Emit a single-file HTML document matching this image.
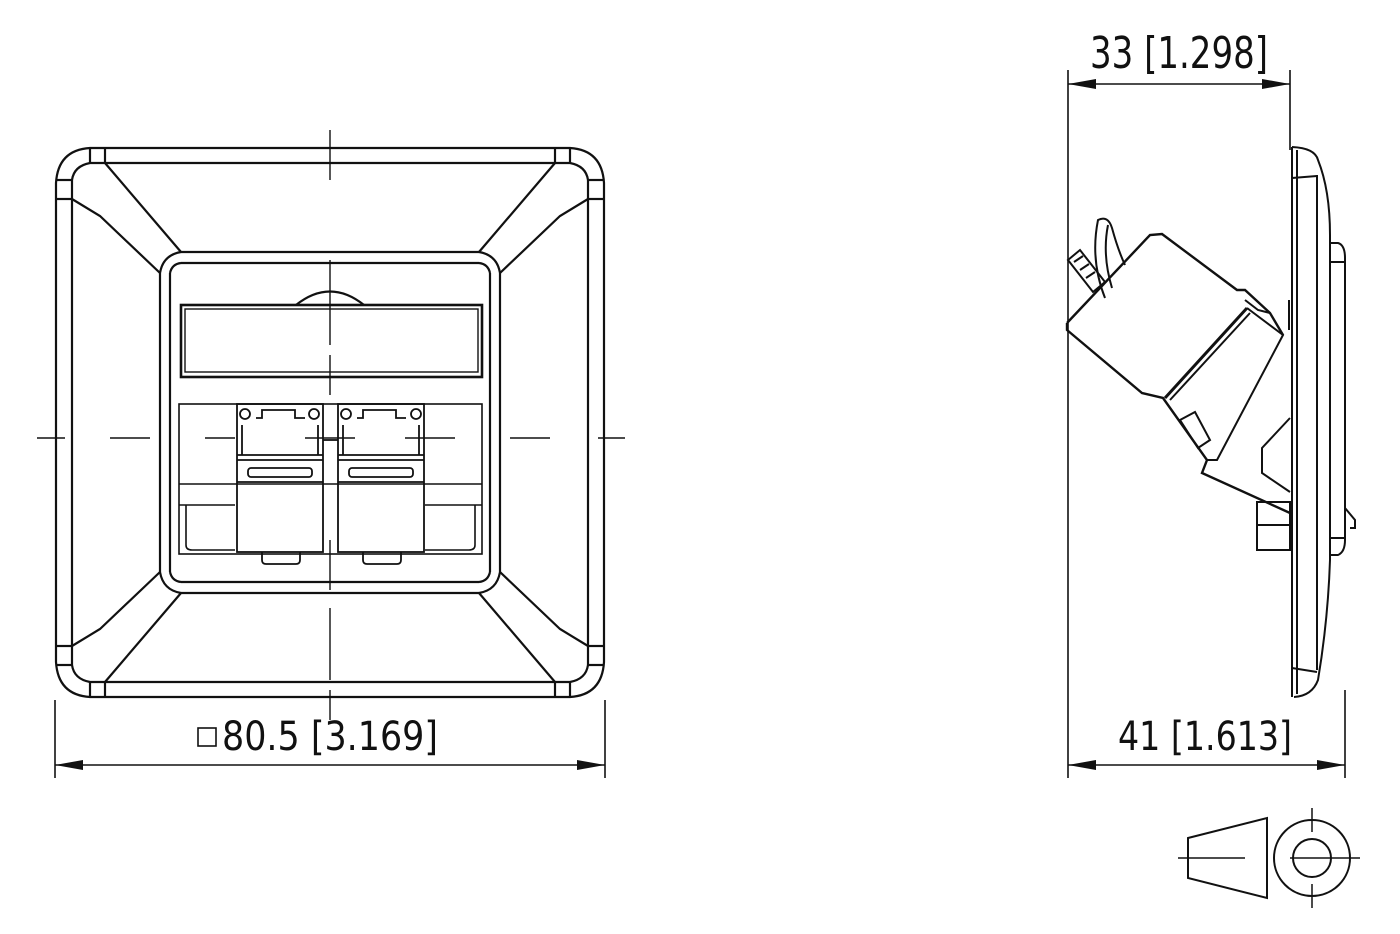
<!DOCTYPE html>
<html><head><meta charset="utf-8"><style>
html,body{margin:0;padding:0;background:#fff;}
svg{display:block}
text{font-family:"DejaVu Sans","Liberation Sans",sans-serif;font-weight:normal;fill:#111}
</style></head><body>
<svg width="1400" height="934" viewBox="0 0 1400 934" xmlns="http://www.w3.org/2000/svg">
<defs>
<g id="corner" fill="none" stroke="#111" stroke-width="2.2">
  <path d="M56 199 L56 183 Q58 150 90 148 L105 148"/>
  <path d="M72 180 Q74 166 90 163 L105 163"/>
  <line x1="90" y1="148" x2="90" y2="163"/>
  <line x1="105" y1="148" x2="105" y2="163"/>
  <line x1="56" y1="180" x2="72" y2="180"/>
  <line x1="56" y1="199" x2="72" y2="199"/>
  <line x1="72" y1="180" x2="72" y2="199"/>
  <path d="M105 163 L181 252"/>
  <path d="M72 199 L100 216 L160 273"/>
  <path d="M160 273 Q163 255 181 252"/>
  <path d="M170 273 Q172 264 181 263"/>
</g>
</defs>
<g>
<use href="#corner"/>
<use href="#corner" transform="translate(660,0) scale(-1,1)"/>
<use href="#corner" transform="translate(0,845) scale(1,-1)"/>
<use href="#corner" transform="translate(660,845) scale(-1,-1)"/>
</g>
<g fill="none" stroke="#111" stroke-width="2.2">
  <line x1="105" y1="148" x2="555" y2="148"/><line x1="105" y1="163" x2="555" y2="163"/>
  <line x1="105" y1="697" x2="555" y2="697"/><line x1="105" y1="682" x2="555" y2="682"/>
  <line x1="56" y1="199" x2="56" y2="646"/><line x1="72" y1="199" x2="72" y2="646"/>
  <line x1="604" y1="199" x2="604" y2="646"/><line x1="588" y1="199" x2="588" y2="646"/>
  <line x1="181" y1="252" x2="479" y2="252"/><line x1="181" y1="263" x2="479" y2="263"/>
  <line x1="181" y1="593" x2="479" y2="593"/><line x1="181" y1="582" x2="479" y2="582"/>
  <line x1="160" y1="273" x2="160" y2="572"/><line x1="170" y1="273" x2="170" y2="572"/>
  <line x1="500" y1="273" x2="500" y2="572"/><line x1="490" y1="273" x2="490" y2="572"/>
  <path d="M296 305 Q330 278 364 305"/>
  <rect x="181" y="305" width="301" height="72" stroke-width="2.6"/>
  <rect x="185" y="309" width="293" height="63" stroke-width="1.4"/>
  <rect x="179" y="404" width="303" height="150" stroke-width="1.6"/>
  <line x1="179" y1="484" x2="482" y2="484" stroke-width="1.6"/>
  <path d="M186 505 L186 545 Q186 550 192 550 L235 550" stroke-width="1.6"/>
  <path d="M475 505 L475 545 Q475 550 469 550 L425 550" stroke-width="1.6"/>
  <line x1="179" y1="505" x2="235" y2="505" stroke-width="1.4"/>
  <line x1="425" y1="505" x2="482" y2="505" stroke-width="1.4"/>
  <g stroke-width="1.8">
    <rect x="237" y="404" width="86" height="148"/>
    <rect x="338" y="404" width="86" height="148"/>
    <line x1="237" y1="482" x2="323" y2="482"/><line x1="338" y1="482" x2="424" y2="482"/>
    <line x1="237" y1="455" x2="323" y2="455"/><line x1="338" y1="455" x2="424" y2="455"/>
    <line x1="237" y1="460" x2="323" y2="460"/><line x1="338" y1="460" x2="424" y2="460"/>
    <rect x="248" y="468" width="64" height="9" rx="3"/><rect x="349" y="468" width="64" height="9" rx="3"/>
    <path d="M262 552 L262 560 Q262 564 266 564 L296 564 Q300 564 300 560 L300 552"/>
    <path d="M363 552 L363 560 Q363 564 367 564 L397 564 Q401 564 401 560 L401 552"/>
    <circle cx="245" cy="414" r="5"/><circle cx="314" cy="414" r="5"/>
    <circle cx="346" cy="414" r="5"/><circle cx="416" cy="414" r="5"/>
    <path d="M256 418 L262 418 L262 410 L295 410 L295 418 L305 418"/>
    <path d="M357 418 L363 418 L363 410 L396 410 L396 418 L406 418"/>
    <line x1="242" y1="425" x2="242" y2="455"/><line x1="318" y1="425" x2="318" y2="455"/>
    <line x1="343" y1="425" x2="343" y2="455"/><line x1="419" y1="425" x2="419" y2="455"/>
    <line x1="323" y1="440" x2="338" y2="440"/>
  </g>
  <g stroke-width="1.4">
    <line x1="330" y1="130" x2="330" y2="180"/><line x1="330" y1="260" x2="330" y2="345"/>
    <line x1="330" y1="355" x2="330" y2="395"/><line x1="330" y1="540" x2="330" y2="590"/>
    <line x1="330" y1="608" x2="330" y2="680"/><line x1="330" y1="690" x2="330" y2="720"/>
    <line x1="37" y1="438" x2="65" y2="438"/><line x1="110" y1="438" x2="150" y2="438"/>
    <line x1="205" y1="438" x2="235" y2="438"/><line x1="305" y1="438" x2="355" y2="438"/>
    <line x1="405" y1="438" x2="455" y2="438"/><line x1="510" y1="438" x2="550" y2="438"/>
    <line x1="598" y1="438" x2="625" y2="438"/>
  </g>
  <g stroke-width="1.6">
    <line x1="55" y1="700" x2="55" y2="778"/><line x1="605" y1="700" x2="605" y2="778"/>
    <line x1="55" y1="765" x2="605" y2="765"/>
  </g>
  <rect x="198" y="728" width="18" height="18" stroke-width="1.6"/>
</g>
<polygon points="55,765 83,760 83,770" fill="#111"/>
<polygon points="605,765 577,760 577,770" fill="#111"/>
<text x="222" y="750" font-size="40" textLength="216" lengthAdjust="spacingAndGlyphs">80.5 [3.169]</text>

<g fill="none" stroke="#111" stroke-width="1.6">
  <line x1="1068" y1="70" x2="1068" y2="778"/>
  <line x1="1290" y1="70" x2="1290" y2="150"/>
  <line x1="1345" y1="690" x2="1345" y2="778"/>
  <line x1="1068" y1="84" x2="1290" y2="84"/>
  <line x1="1068" y1="765" x2="1345" y2="765"/>
</g>
<polygon points="1068,84 1096,79 1096,89" fill="#111"/>
<polygon points="1290,84 1262,79 1262,89" fill="#111"/>
<polygon points="1068,765 1096,760 1096,770" fill="#111"/>
<polygon points="1345,765 1317,760 1317,770" fill="#111"/>
<text x="1090" y="68" font-size="44" textLength="178" lengthAdjust="spacingAndGlyphs">33 [1.298]</text>
<text x="1118" y="750" font-size="40" textLength="174" lengthAdjust="spacingAndGlyphs">41 [1.613]</text>

<g fill="none" stroke="#111" stroke-width="2">
  <line x1="1292" y1="147" x2="1292" y2="697"/>
  <line x1="1297" y1="150" x2="1297" y2="694"/>
  <line x1="1317" y1="175" x2="1317" y2="670"/>
  <path d="M1292 147 Q1315 148 1318 160 Q1330 190 1330 235 L1330 560 Q1328 620 1318 680 Q1312 696 1294 697"/>
  <line x1="1292" y1="178" x2="1317" y2="176"/><line x1="1292" y1="668" x2="1317" y2="672"/>
  <path d="M1330 243 L1338 243 Q1345 245 1345 258 L1345 540 Q1345 552 1338 555 L1330 555"/>
  <line x1="1330" y1="262" x2="1345" y2="262"/><line x1="1330" y1="538" x2="1345" y2="538"/>
  <path d="M1345 508 L1355 520 L1355 528 L1350 528"/>
  <path d="M1067 323 L1150 235 L1162 234 L1237 290 L1245 290 L1270 313 L1283 335" stroke-width="2.4"/>
  <path d="M1067 323 L1067 330 L1142 393 L1163 398 L1207 460 L1202 473 L1290 513" stroke-width="2.4"/>
  <path d="M1247 308 L1283 335 L1217 460 L1207 460"/>
  <path d="M1247 308 L1165 398" stroke-width="3"/>
  <path d="M1250 313 L1170 400"/>
  <path d="M1245 300 L1258 310 L1270 313"/>
  <path d="M1180 420 L1195 412 L1210 440 L1198 448 Z"/>
  <path d="M1290 418 L1262 448 L1262 473 L1290 492"/>
  <rect x="1257" y="502" width="33" height="48"/>
  <line x1="1257" y1="525" x2="1290" y2="525"/>
  <line x1="1289" y1="300" x2="1289" y2="330"/>
  <path d="M1105 298 Q1090 260 1098 220 Q1108 215 1112 228 Q1118 250 1125 265"/>
  <path d="M1112 288 Q1102 255 1108 225"/>
  <path d="M1068 260 L1080 250 L1105 282 L1093 292 Z"/>
  <line x1="1074" y1="262" x2="1083" y2="256"/><line x1="1080" y1="270" x2="1089" y2="264"/>
  <line x1="1086" y1="278" x2="1095" y2="272"/>
</g>

<g fill="none" stroke="#111" stroke-width="2">
  <polygon points="1188,838 1267,818 1267,898 1188,878"/>
  <line x1="1178" y1="858" x2="1245" y2="858" stroke-width="1.5"/>
  <circle cx="1312" cy="858" r="38"/>
  <circle cx="1312" cy="858" r="19"/>
  <line x1="1290" y1="858" x2="1360" y2="858" stroke-width="1.5"/>
  <line x1="1312" y1="808" x2="1312" y2="832" stroke-width="1.5"/>
  <line x1="1312" y1="884" x2="1312" y2="908" stroke-width="1.5"/>
</g>
</svg>
</body></html>
